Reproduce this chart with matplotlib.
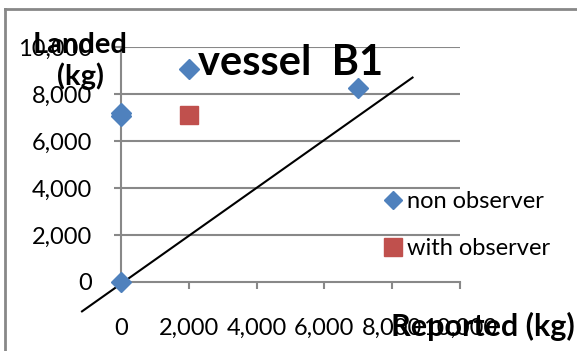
import matplotlib
matplotlib.use('Agg')
import matplotlib.pyplot as plt
from matplotlib.lines import Line2D

plt.rcParams['font.family'] = ['Lato', 'DejaVu Sans']

# data
non_obs_x = [0, 0, 2000, 7000, 0]
non_obs_y = [7050, 7180, 9080, 8250, 0]
with_obs_x = [2000]
with_obs_y = [7100]
# hand drawn 1:1 reference line
ref_x = [-1150, 8600]
ref_y = [-1250, 8700]
ticks = [0, 2000, 4000, 6000, 8000, 10000]

blue = '#4F81BD'
red = '#C0504D'
grey = '#888888'

fig = plt.figure(figsize=(5.77, 3.51), dpi=100)
ax = fig.add_axes([121/577, 69/351, 339/577, 235/351])

ax.set_xlim(0, 10000)
ax.set_ylim(0, 10000)
ax.set_xticks(ticks)
ax.set_yticks(ticks)
ax.set_xticklabels(['{:,}'.format(t) for t in ticks])
ax.set_yticklabels(['{:,}'.format(t) for t in ticks])

for y in ticks[1:]:
    ax.axhline(y, color=grey, lw=1.5, zorder=1)

for s in ['top', 'right']:
    ax.spines[s].set_visible(False)
for s in ['left', 'bottom']:
    ax.spines[s].set_color(grey)
    ax.spines[s].set_linewidth(1.5)

ax.tick_params(axis='x', direction='out', length=5, width=1.5, color=grey,
               labelsize=17, pad=21)
ax.tick_params(axis='y', direction='out', length=5, width=1.5, color=grey,
               labelsize=17, pad=16)

ax.plot(ref_x, ref_y, color='black', lw=1.5, clip_on=False, zorder=2)
ax.plot(non_obs_x, non_obs_y, linestyle='none', marker='D', markersize=10,
        color=blue, clip_on=False, zorder=3)
ax.plot(with_obs_x, with_obs_y, linestyle='none', marker='s', markersize=13,
        color=red, clip_on=False, zorder=3)

fig.text(198/577, 1 - 75/351, 'vessel  B1', fontsize=30, fontweight='bold',
         ha='left', va='baseline')
fig.text(80/577, 1 - 61/351, 'Landed\n(kg)', fontsize=21, fontweight='bold',
         ha='center', va='center', linespacing=1.2)
fig.text(575/577, 1 - 326/351, 'Reported (kg)', fontsize=22, fontweight='bold',
         ha='right', va='center')

handles = [Line2D([], [], linestyle='none', marker='D', markersize=9, color=blue),
           Line2D([], [], linestyle='none', marker='s', markersize=13, color=red)]
fig.legend(handles, ['non observer', 'with observer'], loc='upper left',
           bbox_to_anchor=(369/577, 1 - 179/351), frameon=False, fontsize=17,
           labelspacing=1.1, handletextpad=0.1, handlelength=1.0,
           borderpad=0)

# grey border of the chart area
fig.add_artist(Line2D([5/577, 5/577], [0, 1 - 9/351], transform=fig.transFigure,
                      color=grey, lw=2))
fig.add_artist(Line2D([5/577, 1], [1 - 9/351, 1 - 9/351], transform=fig.transFigure,
                      color=grey, lw=2))

fig.savefig('out.png', dpi=100)
